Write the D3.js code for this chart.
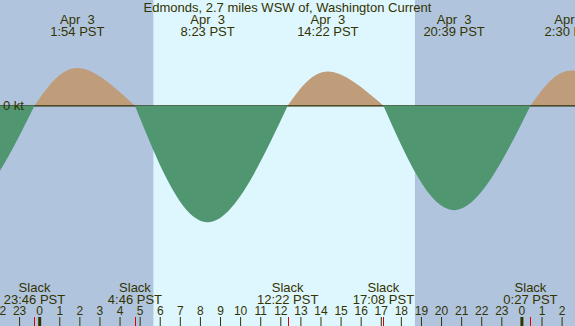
<!DOCTYPE html>
<html>
<head>
<meta charset="utf-8">
<script src="https://cdn.jsdelivr.net/npm/d3@7"></script>
<style>
  body { margin: 0; background: #fff; }
  svg text { font-family: "Liberation Sans", Arial, sans-serif; fill: #333300; white-space: pre; }
</style>
</head>
<body>
<script>
//chart data
var title = "Edmonds, 2.7 miles WSW of, Washington Current";
var maxTimes = ["2023-04-02 20:05", "2023-04-03 01:54", "2023-04-03 08:23", "2023-04-03 14:22", "2023-04-03 20:39", "2023-04-04 02:30"];
var maxSpeeds = [-1.70, 0.63, -1.94, 0.57, -1.74, 0.59]; //knots, + flood / - ebb
var slackTimes = ["2023-04-02 16:50", "2023-04-02 23:46", "2023-04-03 04:46", "2023-04-03 12:22", "2023-04-03 17:08", "2023-04-04 00:27", "2023-04-04 05:20"];
var sunTimes = ["2023-04-03 05:41", "2023-04-03 18:42"]; //sunrise, sunset
var viewTimes = ["2023-04-02 22:03", "2023-04-04 02:40"];
var hourTickRange = ["2023-04-02 22:00", "2023-04-04 03:00"];

(function(){
    var width = 575, height = 326;
    var parse = d3.timeParse("%Y-%m-%d %H:%M");
    var fmtDay = d3.timeFormat("%b %e"),
        fmtTime = d3.timeFormat("%-H:%M");

    var svg = d3.select("body").append("svg")
        .attr("width", width)
        .attr("height", height);

    var x = d3.scaleTime()
        .domain(viewTimes.map(parse))
        .range([0, width]);

    var y = d3.scaleLinear()
        .domain([-2, 1])
        .range([225.8, 45.8]);

    //night / day background
    svg.append("rect")
        .attr("width", width).attr("height", height)
        .attr("fill", "#b0c4de");
    var sun = sunTimes.map(parse);
    svg.append("rect")
        .attr("x", x(sun[0]))
        .attr("width", x(sun[1]) - x(sun[0]))
        .attr("height", height)
        .attr("fill", "#def6fd");

    //each half cycle runs slack -> max -> slack
    var slacks = slackTimes.map(parse);
    var halves = maxTimes.map(function(t, i){
        var v = maxSpeeds[i];
        return [
            {t: slacks[i], v: 0},
            {t: parse(t), v: v},
            {t: slacks[i + 1], v: 0}
        ];
    });

    var area = d3.area()
        .x(function(d){ return x(d.t); })
        .y0(y(0))
        .y1(function(d){ return y(d.v); })
        .curve(d3.curveNatural);

    //flood humps, then zero line, then ebb troughs
    svg.selectAll(".flood")
        .data(halves.filter(function(h){ return h[1].v > 0; }))
        .enter().append("path")
        .attr("class", "flood")
        .attr("d", area)
        .attr("fill", "#bf9d7a");

    svg.append("line")
        .attr("x1", 0).attr("x2", width)
        .attr("y1", y(0)).attr("y2", y(0))
        .attr("stroke", "#2b2b00")
        .attr("stroke-width", 1.2);

    svg.selectAll(".ebb")
        .data(halves.filter(function(h){ return h[1].v < 0; }))
        .enter().append("path")
        .attr("class", "ebb")
        .attr("d", area)
        .attr("fill", "#4f9671");

    svg.append("text")
        .attr("x", 3).attr("y", y(0) + 4.5)
        .attr("font-size", 13)
        .text("0 kt");

    //title
    svg.append("text")
        .attr("x", width / 2).attr("y", 12.3)
        .attr("text-anchor", "middle")
        .attr("font-size", 13)
        .text(title);

    //max current labels along the top
    var maxLab = svg.selectAll(".maxLabel")
        .data(maxTimes.map(parse))
        .enter().append("g")
        .attr("class", "maxLabel")
        .attr("transform", function(d){ return "translate(" + x(d) + ",0)"; });
    maxLab.append("text")
        .attr("y", 24).attr("text-anchor", "middle").attr("font-size", 13)
        .text(function(d){ return fmtDay(d); });
    maxLab.append("text")
        .attr("y", 35.7).attr("text-anchor", "middle").attr("font-size", 13)
        .text(function(d){ return fmtTime(d) + " PST"; });

    //slack labels along the bottom
    var slackLab = svg.selectAll(".slackLabel")
        .data(slacks)
        .enter().append("g")
        .attr("class", "slackLabel")
        .attr("transform", function(d){ return "translate(" + x(d) + ",0)"; });
    slackLab.append("text")
        .attr("y", 291.7).attr("text-anchor", "middle").attr("font-size", 13)
        .text("Slack");
    slackLab.append("text")
        .attr("y", 304).attr("text-anchor", "middle").attr("font-size", 13)
        .text(function(d){ return fmtTime(d) + " PST"; });

    //hour axis
    var hr = hourTickRange.map(parse);
    var axis = svg.append("g")
        .attr("transform", "translate(0," + height + ")")
        .call(d3.axisTop(x)
            .tickValues(d3.timeHour.range(hr[0], hr[1]))
            .tickFormat(d3.timeFormat("%-H"))
            .tickSize(9)
            .tickPadding(2));
    axis.attr("font-family", null).attr("font-size", 12);
    axis.select(".domain").remove();
    axis.selectAll("text").attr("fill", null);
    axis.selectAll("line")
        .attr("stroke", "#333300")
        .attr("stroke-width", function(d){ return d.getHours() === 0 ? 3 : 1; });

    //slack ticks in red
    svg.selectAll(".slackTick")
        .data(slacks)
        .enter().append("line")
        .attr("class", "slackTick")
        .attr("x1", function(d){ return Math.round(x(d)) + 0.5; })
        .attr("x2", function(d){ return Math.round(x(d)) + 0.5; })
        .attr("y1", height - 9).attr("y2", height)
        .attr("stroke", "#e00000");
})();
</script>
</body>
</html>
